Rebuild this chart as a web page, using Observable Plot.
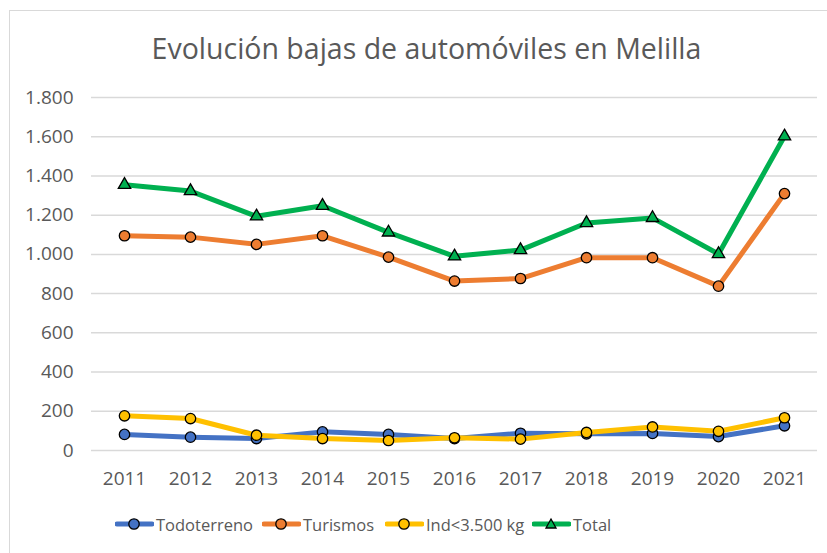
<!DOCTYPE html>
<html>
<head>
<meta charset="utf-8">
<script src="https://cdn.jsdelivr.net/npm/d3@7"></script>
<script src="https://cdn.jsdelivr.net/npm/@observablehq/plot@0.6"></script>
<style>
  body { margin: 0; background: #fff; }
  #wrap { position: relative; width: 827px; height: 553px; overflow: hidden; font-family: "Open Sans", sans-serif; color: #595959; }
  #frame { position: absolute; left: 9px; top: 10px; width: 830px; height: 560px; border: 1px solid #d9d9d9; box-sizing: border-box; }
  #title { position: absolute; left: 13px; width: 827px; top: 29px; text-align: center; font-size: 28.5px; line-height: 38px; color: #595959; white-space: nowrap; }
  #chart { position: absolute; left: 0; top: 0; }
  #legend { position: absolute; left: 0; top: 511px; width: 827px; height: 26px; }
  .item { position: absolute; top: 0; display: flex; align-items: center; font-size: 16.5px; height: 26px; white-space: nowrap; }
  .item svg { margin-right: 2px; }
</style>
</head>
<body>
<div id="wrap">
  <div id="frame"></div>
  <div id="chart"></div>
  <div id="title">Evolución bajas de automóviles en Melilla</div>
  <div id="legend"></div>
</div>
<script>
const years = [2011, 2012, 2013, 2014, 2015, 2016, 2017, 2018, 2019, 2020, 2021];
const todoterreno = [82, 68, 61, 95, 82, 61, 88, 85, 87, 71, 126];
const turismos = [1095, 1088, 1051, 1095, 986, 864, 877, 983, 983, 838, 1310];
const ind = [177, 163, 78, 61, 51, 65, 58, 92, 120, 98, 167];
const total = [1355, 1323, 1194, 1248, 1112, 990, 1022, 1160, 1186, 1002, 1602];
const yTicks = [0, 200, 400, 600, 800, 1000, 1200, 1400, 1600, 1800];

const seriesNames = ["Todoterreno", "Turismos", "Ind<3.500 kg", "Total"];
const seriesValues = [todoterreno, turismos, ind, total];
const seriesColors = ["#4472C4", "#ED7D31", "#FFC000", "#00B050"];
const seriesSymbols = ["circle", "circle", "circle", "triangle"];

const fmt = d3.formatLocale({decimal: ",", thousands: ".", grouping: [3], currency: ["", ""]}).format(",");

const marks = [
  Plot.ruleY(yTicks, {stroke: "#d9d9d9", strokeWidth: 1.5}),
  Plot.axisY(yTicks, {tickSize: 0, tickPadding: 18, tickFormat: fmt, fontSize: 19, fill: "#595959", label: null}),
  Plot.axisX(years, {tickSize: 0, tickPadding: 21, tickFormat: d => String(d), fontSize: 19, fill: "#595959", label: null})
];
seriesNames.forEach((name, i) => {
  const data = years.map((yr, j) => ({year: yr, value: seriesValues[i][j]}));
  marks.push(Plot.line(data, {x: "year", y: "value", stroke: seriesColors[i], strokeWidth: 5, strokeLinejoin: "round", strokeLinecap: "round"}));
  marks.push(Plot.dot(data, {x: "year", y: "value", symbol: seriesSymbols[i], fill: seriesColors[i], stroke: "#000", strokeWidth: 1.3, r: seriesSymbols[i] === "triangle" ? 4.6 : 5.2}));
});

const chart = Plot.plot({
  width: 827,
  height: 500,
  marginTop: 97,
  marginBottom: 50,
  marginLeft: 91,
  marginRight: 10,
  style: {fontFamily: "Open Sans, sans-serif", fontSize: "19px", color: "#595959", background: "transparent"},
  x: {type: "point", domain: years, padding: 0.5, label: null},
  y: {domain: [0, 1800], axis: null, label: null},
  marks
});
document.getElementById("chart").appendChild(chart);

const legendX = [115, 262, 385, 532];
const legend = document.getElementById("legend");
seriesNames.forEach((name, i) => {
  const div = document.createElement("div");
  div.className = "item";
  div.style.left = legendX[i] + "px";
  const sym = seriesSymbols[i] === "triangle"
    ? `<path d="M19,8 L24,17 L14,17 Z" fill="${seriesColors[i]}" stroke="#000" stroke-width="1.3"/>`
    : `<circle cx="19" cy="13" r="5.2" fill="${seriesColors[i]}" stroke="#000" stroke-width="1.3"/>`;
  div.innerHTML = `<svg width="39" height="26"><line x1="2" x2="37" y1="13" y2="13" stroke="${seriesColors[i]}" stroke-width="5" stroke-linecap="round"/>${sym}</svg><span>${name.replace("<", "&lt;")}</span>`;
  legend.appendChild(div);
});
</script>
</body>
</html>
